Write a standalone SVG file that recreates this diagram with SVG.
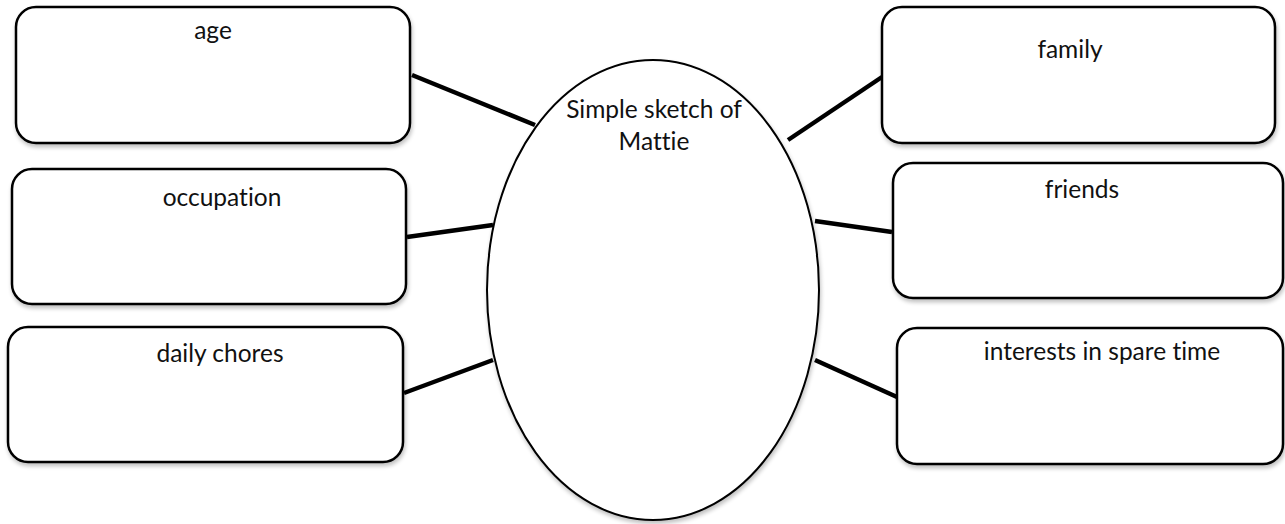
<svg xmlns="http://www.w3.org/2000/svg" width="1285" height="524" viewBox="0 0 1285 524">
  <defs>
    <filter id="shadow" x="-5%" y="-10%" width="115%" height="130%">
      <feGaussianBlur in="SourceAlpha" stdDeviation="2"/>
      <feOffset dx="1" dy="3" result="blur"/>
      <feComponentTransfer><feFuncA type="linear" slope="0.25"/></feComponentTransfer>
      <feMerge><feMergeNode/><feMergeNode in="SourceGraphic"/></feMerge>
    </filter>
  </defs>
  <style>
    .box { fill: #fff; stroke: #000; stroke-width: 2.5; filter: url(#shadow); }
    .oval { fill: #fff; stroke: #000; stroke-width: 2; filter: url(#shadow); }
    .link { stroke: #000; stroke-width: 4.5; fill: none; }
    .label { font-family: "Lato", "Liberation Sans", sans-serif; font-size: 24.5px; fill: #111; text-anchor: middle; font-variant-ligatures: none; }
  </style>
  <rect width="1285" height="524" fill="#fff"/>

  <!-- connectors between the sketch oval and the topic boxes -->
  <g id="connectors">
    <line class="link" x1="412" y1="75" x2="535" y2="125"/>
    <line class="link" x1="407" y1="237" x2="493" y2="225"/>
    <line class="link" x1="404" y1="393" x2="493" y2="360"/>
    <line class="link" x1="788" y1="140" x2="882" y2="77"/>
    <line class="link" x1="815" y1="221" x2="892" y2="232"/>
    <line class="link" x1="815" y1="360" x2="897" y2="397"/>
  </g>

  <g id="sketch">
    <ellipse class="oval" cx="653" cy="290" rx="166" ry="230"/>
    <text class="label" x="654" y="118">Simple sketch of</text>
    <text class="label" x="654" y="150">Mattie</text>
  </g>

  <g id="age">
    <rect class="box" x="16" y="7" width="394" height="136" rx="20"/>
    <text class="label" x="213" y="39">age</text>
  </g>
  <g id="occupation">
    <rect class="box" x="12" y="169" width="394" height="135" rx="20"/>
    <text class="label" x="222" y="206">occupation</text>
  </g>
  <g id="daily-chores">
    <rect class="box" x="8" y="327" width="395" height="135" rx="20"/>
    <text class="label" x="220" y="362">daily chores</text>
  </g>
  <g id="family">
    <rect class="box" x="882" y="7" width="393" height="136" rx="20"/>
    <text class="label" x="1070" y="58">family</text>
  </g>
  <g id="friends">
    <rect class="box" x="893" y="163" width="390" height="135" rx="20"/>
    <text class="label" x="1082" y="198">friends</text>
  </g>
  <g id="interests">
    <rect class="box" x="897" y="328" width="386" height="136" rx="20"/>
    <text class="label" x="1102" y="360">interests in spare time</text>
  </g>
</svg>
